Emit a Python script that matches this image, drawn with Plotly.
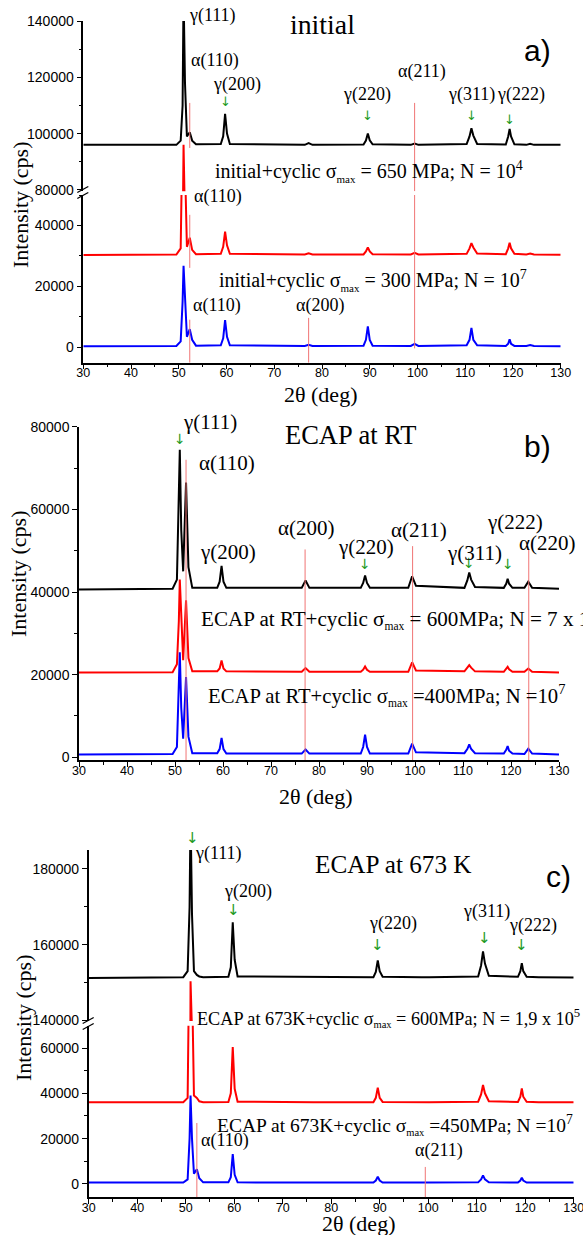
import plotly.graph_objects as go

W, H = 583, 1235
SERIF = "Liberation Serif, Times New Roman, serif"
SANS = "Liberation Sans, Arial, sans-serif"

# ---------------- data ----------------
two_theta = [30, 49.5, 50.4, 50.8, 51.0, 51.3, 51.7, 52.3, 52.8, 53.6,
             58.8, 59.3, 59.7, 60.1, 60.7, 76.4, 77.2, 78.0,
             88.7, 89.2, 89.6, 90.0, 90.6, 98.6, 99.4, 100.2,
             110.3, 110.9, 111.3, 111.7, 112.5, 118.5, 119.0, 119.3, 119.6, 120.3,
             122.8, 123.6, 124.4, 130]

# panel a) initial
a_initial = [96000, 96000, 97500, 110000, 150000, 118000, 99000, 100500, 97500, 96200,
             96300, 99000, 107000, 100000, 96300, 96000, 96600, 96000,
             96100, 97500, 100000, 97600, 96200, 96000, 96500, 96000,
             96300, 99000, 101900, 99300, 96300, 96100, 99000, 101700, 99000, 96200,
             96000, 96400, 96000, 96000]
a_cyclic_650 = [30300, 30500, 32500, 60000, 96000, 60000, 33000, 36000, 32000, 30600,
                30700, 33000, 38000, 33500, 30700, 30500, 30900, 30500,
                30500, 31500, 32800, 31500, 30600, 30500, 31000, 30500,
                30700, 32500, 34200, 32800, 30800, 30600, 32500, 34300, 32500, 30700,
                30500, 30800, 30500, 30400]
a_cyclic_300 = [400, 500, 2000, 15000, 26800, 14000, 3500, 6000, 2500, 600,
                700, 3000, 9000, 3500, 700, 500, 900, 500,
                600, 2500, 6900, 2500, 600, 500, 1200, 500,
                700, 2500, 6400, 2500, 700, 500, 1200, 2700, 1200, 500,
                500, 800, 500, 400]

# panel b) ECAP at RT
b_ecap_rt = [40600, 40800, 43000, 60000, 74400, 55000, 45000, 66500, 46000, 41000,
             41000, 42500, 46300, 42500, 41000, 41000, 42800, 41000,
             41000, 42200, 44000, 42200, 41000, 41000, 43800, 41500,
             41000, 42800, 44700, 43000, 41200, 41000, 42000, 43200, 42000, 41000,
             41000, 42500, 41000, 40800]
b_cyclic_600 = [20500, 20600, 22500, 33000, 43000, 33000, 23500, 38000, 24000, 20800,
                20800, 21500, 23400, 21500, 20800, 20700, 21600, 20700,
                20700, 21200, 22000, 21200, 20700, 20700, 23000, 21000,
                20800, 21700, 22300, 21700, 20800, 20700, 21300, 21900, 21300, 20700,
                20700, 21500, 20700, 20500]
b_cyclic_400 = [700, 800, 2500, 15000, 25400, 12000, 4500, 19400, 5000, 1000,
                1000, 2000, 4700, 2000, 900, 900, 1900, 900,
                900, 2500, 5500, 2500, 900, 900, 3300, 1200,
                1000, 2000, 3100, 2000, 1000, 900, 1800, 2700, 1600, 900,
                800, 2100, 900, 700]

# panel c) ECAP at 673 K
c_ecap_673 = [151200, 151400, 153000, 170000, 195000, 168000, 153000, 152000, 151600, 151400,
              151500, 154000, 165900, 156000, 151600, 151400, 151500, 151400,
              151400, 152800, 155800, 153000, 151500, 151400, 151400, 151400,
              151600, 154500, 158200, 155000, 151800, 151500, 153000, 155100, 153000, 151500,
              151400, 151400, 151400, 151300]
c_cyclic_600 = [36000, 36100, 38000, 80000, 150300, 90000, 39000, 38000, 36500, 36100,
                36200, 40000, 60400, 42000, 36300, 36100, 36200, 36100,
                36100, 38000, 42500, 38000, 36200, 36100, 36200, 36100,
                36300, 39500, 43700, 40000, 36500, 36200, 38500, 42200, 38500, 36300,
                36100, 36100, 36100, 36000]
c_cyclic_450 = [600, 600, 2000, 20000, 39000, 20000, 4500, 6500, 2500, 700,
                700, 3000, 13200, 4000, 700, 600, 700, 600,
                600, 1500, 3200, 1500, 600, 600, 700, 600,
                700, 2000, 3700, 2000, 700, 600, 1500, 2800, 1500, 600,
                600, 700, 600, 600]

# alpha-phase marker lines: position, top, bottom, axis
alpha_a_pos = [52.3, 52.3, 52.3, 99.4, 99.4, 77.2]
alpha_a_top = [110900, 43500, 9100, 110900, 50000, 9700]
alpha_a_bot = [94900, 26100, -5000, 79500, -300, -5000]
alpha_a_ax = ["y2", "y", "y", "y2", "y", "y"]

alpha_b_pos = [52.3, 77.1, 99.5, 123.7]
alpha_b_top = [72000, 50300, 51100, 50300]

alpha_c_pos = [52.3, 99.4]
alpha_c_top = [26900, 7500]

# gamma-phase arrows: position and vertical centre (px)
gamma_a_pos = [59.7, 89.6, 111.3, 119.3]
gamma_a_mid = [102, 116, 116, 119]
gamma_b_pos = [51.0, 89.6, 111.3, 119.3]
gamma_b_mid = [439, 564, 563, 564]
gamma_c_pos = [51.4, 59.8, 89.6, 111.6, 119.3]
gamma_c_mid = [838, 910, 945, 938, 945]

# ---------------- figure ----------------
fig = go.Figure()

def add(y, color, xa, ya):
    fig.add_trace(go.Scatter(x=two_theta, y=y, mode="lines", xaxis=xa, yaxis=ya,
                             line=dict(color=color, width=2), showlegend=False,
                             hoverinfo="skip"))

add(a_initial, "black", "x", "y2")
add(a_cyclic_650, "#ff0000", "x", "y2")
add(a_cyclic_650, "#ff0000", "x", "y")
add(a_cyclic_300, "#0000ff", "x", "y")

add(b_ecap_rt, "black", "x2", "y3")
add(b_cyclic_600, "#ff0000", "x2", "y3")
add(b_cyclic_400, "#0000ff", "x2", "y3")

add(c_ecap_673, "black", "x3", "y5")
add(c_cyclic_600, "#ff0000", "x3", "y5")
add(c_cyclic_600, "#ff0000", "x3", "y4")
add(c_cyclic_450, "#0000ff", "x3", "y4")

def px(x):
    return x / W

def py(y):
    return 1 - y / H

base = dict(showline=True, linecolor="black", linewidth=1.5, ticks="outside",
            ticklen=5, tickwidth=1.3, tickcolor="black", showgrid=False,
            zeroline=False, automargin=False, tickformat="d",
            tickfont=dict(family=SANS, size=14, color="black"))

def xax(d0, d1, anchor):
    return dict(base, domain=[px(d0), px(d1)], anchor=anchor, range=[30, 130],
                dtick=10, tick0=30, ticklabeloverflow="allow", ticklabelstandoff=-7,
                tickfont=dict(family=SANS, size=12.5, color="black"),
                minor=dict(dtick=5, ticklen=3, ticks="outside", tickwidth=1.2,
                           tickcolor="black"))

def yax(p_bot, p_top, anchor, rng, dtick=20000):
    return dict(base, domain=[py(p_bot), py(p_top)], anchor=anchor, range=rng,
                dtick=dtick, tick0=0,
                minor=dict(dtick=10000, ticklen=3, ticks="outside", tickwidth=1.2,
                           tickcolor="black"))

fig.update_layout(
    width=W, height=H, template="none",
    margin=dict(l=0, r=0, t=0, b=0),
    paper_bgcolor="white", plot_bgcolor="rgba(0,0,0,0)",
    showlegend=False,
    xaxis=xax(83.3, 560.7, "y"),
    yaxis=yax(362.7, 195, "x", [-5000, 50000]),
    yaxis2=yax(191.3, 21, "x", [79500, 140000]),
    xaxis2=xax(79, 559, "y3"),
    yaxis3=yax(760, 426.7, "x2", [-650, 80000]),
    xaxis3=xax(88.7, 573.7, "y4"),
    yaxis4=yax(1197.3, 1025.8, "x3", [-5900, 69800]),
    yaxis5=yax(1021.1, 850, "x3", [139800, 185000]),
)

# alpha marker lines
LINE_RED = "#f07474"
for p, t, b, ax in zip(alpha_a_pos, alpha_a_top, alpha_a_bot, alpha_a_ax):
    fig.add_shape(type="line", xref="x", yref=ax, x0=p, x1=p, y0=b, y1=t,
                  line=dict(color=LINE_RED, width=1))
for p, t in zip(alpha_b_pos, alpha_b_top):
    fig.add_shape(type="line", xref="x2", yref="y3", x0=p, x1=p, y0=-650, y1=t,
                  line=dict(color=LINE_RED, width=1))
for p, t in zip(alpha_c_pos, alpha_c_top):
    fig.add_shape(type="line", xref="x3", yref="y4", x0=p, x1=p, y0=-5900, y1=t,
                  line=dict(color=LINE_RED, width=1))

# green gamma arrows (drawn as arrow glyphs)
GREEN = "#1e9a1e"
def arrows(pos, mids, xref, size=14):
    for p, m in zip(pos, mids):
        fig.add_annotation(x=p, xref=xref, y=py(m), yref="paper", text="↓",
                           showarrow=False, xanchor="center", yanchor="middle",
                           font=dict(family="DejaVu Sans", size=size, color=GREEN))

arrows(gamma_a_pos, gamma_a_mid, "x", 13)
arrows(gamma_b_pos, gamma_b_mid, "x2", 14)
arrows(gamma_c_pos, gamma_c_mid, "x3", 15)

# axis break marks
def brk(xc, yc):
    for dy in (-3, 3):
        fig.add_shape(type="line", xref="paper", yref="paper",
                      x0=px(xc - 6), y0=py(yc + dy + 3), x1=px(xc + 5), y1=py(yc + dy - 3),
                      line=dict(color="black", width=1.3))

brk(83.3, 192.5)
brk(88.7, 1023.5)

def label(text, x, y, size, family=SERIF, xanchor="center", angle=0):
    fig.add_annotation(text=text, x=px(x), y=py(y), xref="paper", yref="paper",
                       showarrow=False, xanchor=xanchor, yanchor="middle",
                       textangle=angle,
                       font=dict(family=family, size=size, color="black"))

def smax(sz):
    return "σ<sub><span style='font-size:%gpx'>max</span></sub>" % sz

# panel a labels
label("γ(111)", 212, 15, 18)
label("α(110)", 215, 60, 18)
label("γ(200)", 237, 85, 18)
label("α(211)", 422, 72, 18)
label("γ(220)", 367, 95, 18)
label("γ(311)", 471, 95, 18)
label("γ(222)", 521, 95, 18)
label("α(110)", 218, 196, 18)
label("α(110)", 217, 305, 18)
label("α(200)", 320, 305, 18)
label("initial", 322, 25, 27.8)
label("a)", 537, 50, 30, SANS)
label("initial+cyclic " + smax(11) + " = 650 MPa; N = 10<sup>4</sup>", 213, 172, 20, xanchor="left")
label("initial+cyclic " + smax(11) + " = 300 MPa; N = 10<sup>7</sup>", 217, 280, 20, xanchor="left")

# panel b labels
label("γ(111)", 210, 421.7, 21)
label("α(110)", 227, 463, 21)
label("γ(200)", 228, 551.7, 21)
label("α(200)", 306, 528, 21)
label("γ(220)", 366, 546.7, 21)
label("α(211)", 419, 530, 21)
label("γ(311)", 474, 553, 21)
label("γ(222)", 515, 521.7, 21)
label("α(220)", 547, 543, 21)
label("ECAP at RT", 350, 435, 26.5)
label("b)", 537, 447, 30, SANS)
label("ECAP at RT+cyclic " + smax(11.5) + " = 600MPa; N = 7 x 10<sup>5</sup>", 199, 618, 21.1, xanchor="left")
label("ECAP at RT+cyclic " + smax(11.5) + " =400MPa; N =10<sup>7</sup>", 206, 695, 20.7, xanchor="left")

# panel c labels
label("γ(111)", 218, 853, 18)
label("γ(200)", 248, 891.7, 18)
label("γ(220)", 393, 923.3, 18)
label("γ(311)", 486, 911.7, 18)
label("γ(222)", 533, 925, 18)
label("α(110)", 225, 1140, 18)
label("α(211)", 439, 1150, 18)
label("ECAP at 673 K", 393, 865, 25.2)
label("c)", 558, 876.7, 30, SANS)
label("ECAP at 673K+cyclic " + smax(10.5) + " = 600MPa; N = 1,9 x 10<sup>5</sup>", 195, 1018, 18.2, xanchor="left")
label("ECAP at 673K+cyclic " + smax(10.5) + " =450MPa; N =10<sup>7</sup>", 215, 1125, 19.5, xanchor="left")

# axis titles
for yc, xc in ((205, 20), (574, 18), (1018, 23)):
    label("Intensity (cps)", xc, yc, 22, angle=-90)
for xc, yc in ((320, 394), (315, 796), (358, 1223)):
    label("2θ (deg)", xc, yc, 22)

fig.write_html("out.html", config={"displayModeBar": False},
               post_script="document.body.style.margin='0';")
